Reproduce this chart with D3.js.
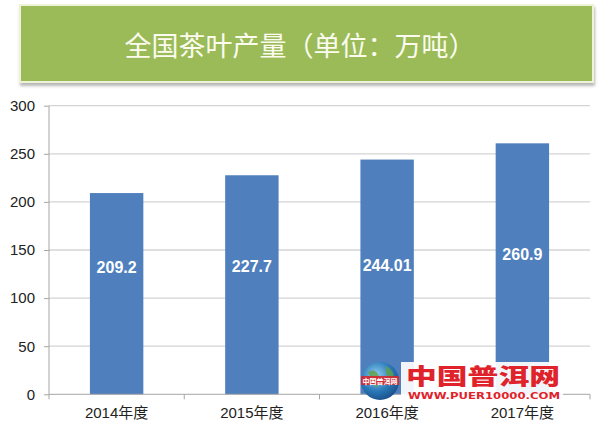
<!DOCTYPE html>
<html><head><meta charset="utf-8">
<script src="https://cdn.jsdelivr.net/npm/d3@7"></script>
<style>body{margin:0;background:#fff}svg{display:block}</style>
</head><body>
<script>
const title = "全国茶叶产量（单位：万吨）";
const categories = ["2014年度","2015年度","2016年度","2017年度"];
const values = [209.2, 227.7, 244.01, 260.9];
const valueLabels = ["209.2","227.7","244.01","260.9"];
const labelAt = [132, 133, 134, 145];
const yTicks = [0,50,100,150,200,250,300];

const W=615,H=431;
const svg=d3.select("body").append("svg").attr("width",W).attr("height",H);
const defs=svg.append("defs");
const f=defs.append("filter").attr("id","sh").attr("x","-5%").attr("y","-10%").attr("width","110%").attr("height","130%");
f.append("feDropShadow").attr("dx",1).attr("dy",3).attr("stdDeviation",1.5).attr("flood-color","#888").attr("flood-opacity",0.6);
const rg=defs.append("radialGradient").attr("id","globe").attr("cx","40%").attr("cy","35%").attr("r","70%");
rg.append("stop").attr("offset","0%").attr("stop-color","#8fd0f0");
rg.append("stop").attr("offset","60%").attr("stop-color","#2a78b8");
rg.append("stop").attr("offset","100%").attr("stop-color","#1a4d86");

// title banner
svg.append("rect").attr("x",20).attr("y",5).attr("width",573).attr("height",77)
  .attr("fill","#9bbb59").attr("stroke","#eef3d8").attr("stroke-width",2).attr("filter","url(#sh)");
svg.append("text").attr("x",300).attr("y",44).attr("text-anchor","middle").attr("dominant-baseline","central")
  .attr("font-family","'Noto Sans CJK SC'").attr("font-size",27).attr("fill","#fbfbf0").text(title);

const x=d3.scaleBand().domain(categories).range([49,590]).paddingInner(0.605).paddingOuter(0.3025);
const y=d3.scaleLinear().domain([0,300]).range([394.3,105.7]);

// gridlines
svg.append("g").selectAll("line").data(yTicks.filter(d=>d>0)).join("line")
  .attr("x1",49).attr("x2",590).attr("y1",d=>y(d)).attr("y2",d=>y(d))
  .attr("stroke","#d4d4d4").attr("stroke-width",1.3);

// y axis
const ya=svg.append("g").attr("transform","translate(49,0)")
  .call(d3.axisLeft(y).tickValues(yTicks).tickSize(5).tickPadding(9));
ya.select(".domain").attr("stroke","#a6a6a6").attr("d","M0,105.7V394.3");
ya.selectAll(".tick line").attr("stroke","#a6a6a6");
ya.selectAll("text").attr("font-family","'Liberation Sans',Arial").attr("font-size",15).attr("fill","#222");

// bars
svg.append("g").selectAll("rect").data(values).join("rect")
  .attr("x",(d,i)=>x(categories[i])).attr("width",x.bandwidth())
  .attr("y",d=>y(d)).attr("height",d=>y(0)-y(d)).attr("fill","#4f80bd");

// x axis
const xa=svg.append("g").attr("transform","translate(0,394.3)")
  .call(d3.axisBottom(x).tickSize(0).tickPadding(13));
xa.select(".domain").attr("stroke","#a6a6a6").attr("d","M49,0H590");
xa.selectAll("text").attr("font-family","'Liberation Sans','Noto Sans CJK SC'").attr("font-size",15).attr("fill","#222");
const bounds=[0,1,2,3,4].map(i=>49+i*x.step());
xa.selectAll(".sep").data(bounds).join("line").attr("class","sep")
  .attr("x1",d=>d).attr("x2",d=>d).attr("y1",0).attr("y2",5).attr("stroke","#a6a6a6");

// value labels
svg.append("g").selectAll("text").data(values).join("text")
  .attr("x",(d,i)=>x(categories[i])+x.bandwidth()/2).attr("y",(d,i)=>y(labelAt[i]))
  .attr("text-anchor","middle").attr("dominant-baseline","central")
  .attr("font-family","'Liberation Sans',Arial").attr("font-weight","bold").attr("font-size",16)
  .attr("fill","#fff").text((d,i)=>valueLabels[i]);

// watermark
const wm=svg.append("g");
wm.append("rect").attr("x",401).attr("y",362).attr("width",162).attr("height",38).attr("fill","#fff").attr("opacity",0.92);
wm.append("circle").attr("cx",380).attr("cy",381).attr("r",19).attr("fill","url(#globe)");
wm.append("path").attr("d","M368,372 q6,-4 10,2 q4,8 -2,14 z M386,366 q8,4 8,12 q-4,2 -8,-4 z").attr("fill","#5fa048").attr("opacity",0.8);
wm.append("rect").attr("x",361).attr("y",376).attr("width",38).attr("height",9).attr("fill","#d8262c").attr("opacity",0.9);
wm.append("text").attr("x",380).attr("y",380.5).attr("text-anchor","middle").attr("dominant-baseline","central")
  .attr("font-family","'Noto Sans CJK SC'").attr("font-weight","bold").attr("font-size",7).attr("fill","#fff").text("中国普洱网");
wm.append("text").attr("x",406).attr("y",384).attr("textLength",154).attr("lengthAdjust","spacingAndGlyphs")
  .attr("font-family","'Noto Sans CJK SC'").attr("font-weight","900").attr("font-size",22).attr("fill","#e0222b").text("中国普洱网");
wm.append("text").attr("x",408).attr("y",399).attr("textLength",152).attr("lengthAdjust","spacingAndGlyphs")
  .attr("font-family","'DejaVu Sans'").attr("font-weight","bold").attr("font-size",8.5).attr("fill","#e0222b").text("WWW.PUER10000.COM");
</script>
</body></html>
